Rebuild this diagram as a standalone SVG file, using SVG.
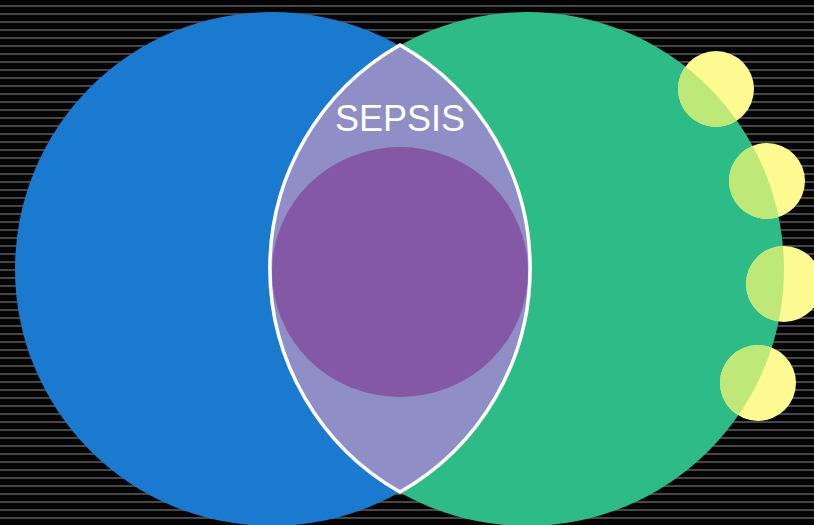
<svg xmlns="http://www.w3.org/2000/svg" width="814" height="525" viewBox="0 0 814 525">
<defs>
<clipPath id="greenClip"><circle cx="527" cy="269" r="257"/></clipPath>
<clipPath id="lensClip"><circle cx="272" cy="269" r="257"/></clipPath>
<style>
.yellow{fill:#FDFA92}
.overlap{fill:#BEE877}
.label{font-family:"Liberation Sans",Arial,sans-serif;font-size:36px;fill:#fff;text-anchor:middle}
</style>
</defs>
<rect width="814" height="525" fill="#050505"/>
<path stroke="#474747" stroke-width="2" fill="none" d="M0,6h814M0,14h814M0,22h814M0,30h814M0,38h814M0,46h814M0,54h814M0,62h814M0,70h814M0,78h814M0,86h814M0,94h814M0,102h814M0,110h814M0,118h814M0,126h814M0,134h814M0,142h814M0,150h814M0,158h814M0,166h814M0,174h814M0,182h814M0,190h814M0,198h814M0,206h814M0,214h814M0,222h814M0,230h814M0,238h814M0,246h814M0,254h814M0,262h814M0,270h814M0,278h814M0,286h814M0,294h814M0,302h814M0,310h814M0,318h814M0,326h814M0,334h814M0,342h814M0,350h814M0,358h814M0,366h814M0,374h814M0,382h814M0,390h814M0,398h814M0,406h814M0,414h814M0,422h814M0,430h814M0,438h814M0,446h814M0,454h814M0,462h814M0,470h814M0,478h814M0,486h814M0,494h814M0,502h814M0,510h814M0,518h814"/>
<g id="blue-circle"><circle cx="272" cy="269" r="257" fill="#1A7AD0"/></g>
<g id="green-circle"><circle cx="527" cy="269" r="257" fill="#2DBC87"/></g>
<g id="sepsis">
<g clip-path="url(#lensClip)"><circle cx="527" cy="269" r="257" fill="#8F8EC6"/></g>
<ellipse cx="400" cy="272" rx="128" ry="125" fill="#8558A5"/>
<path d="M400,45 A257,257 0 0 1 400,492 A257,257 0 0 1 400,45 Z" fill="none" stroke="#fff" stroke-width="3.5"/>
<text class="label" x="400" y="131">SEPSIS</text>
</g>
<g id="yellow-1"><circle class="yellow" cx="716" cy="89" r="38"/><circle class="overlap" cx="716" cy="89" r="38" clip-path="url(#greenClip)"/></g>
<g id="yellow-2"><circle class="yellow" cx="767" cy="181" r="38"/><circle class="overlap" cx="767" cy="181" r="38" clip-path="url(#greenClip)"/></g>
<g id="yellow-3"><circle class="yellow" cx="784" cy="284" r="38"/><circle class="overlap" cx="784" cy="284" r="38" clip-path="url(#greenClip)"/></g>
<g id="yellow-4"><circle class="yellow" cx="758" cy="383" r="38"/><circle class="overlap" cx="758" cy="383" r="38" clip-path="url(#greenClip)"/></g>
<g id="connectors"></g>
</svg>
